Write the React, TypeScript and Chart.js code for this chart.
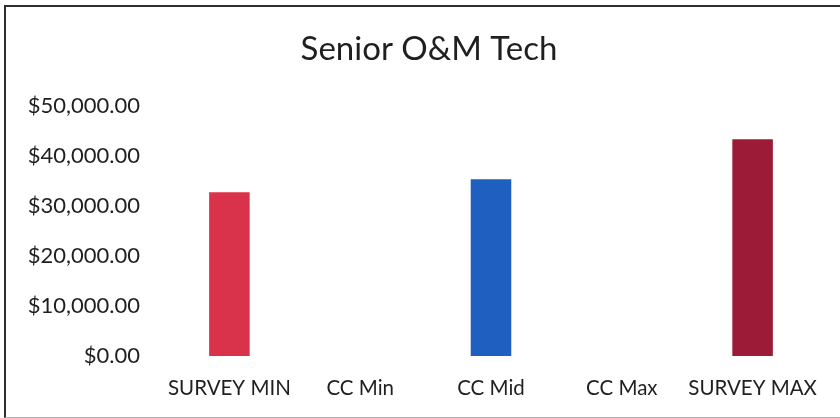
import React, { useEffect, useRef } from "react";
import { Chart, registerables } from "chart.js";

Chart.register(...registerables);

const TITLE = "Senior O&M Tech";
const categories = ["SURVEY MIN", "CC Min", "CC Mid", "CC Max", "SURVEY MAX"];
const values: (number | null)[] = [32700, null, 35300, null, 43300];
const barColors = ["#D8334A", "#D8334A", "#1F5FC0", "#1F5FC0", "#9C1C38"];
const yMin = 0;
const yMax = 50000;
const yStep = 10000;

const FONT = "Lato, 'Open Sans', sans-serif";

const titleShift = {
  id: "titleShift",
  afterLayout(chart: any) {
    const t = chart.titleBlock;
    if (t) t.left = 40;
  },
};

export default function App() {
  const ref = useRef<HTMLCanvasElement | null>(null);

  useEffect(() => {
    if (!ref.current) return;
    const chart = new Chart(ref.current, {
      type: "bar",
      data: {
        labels: categories,
        datasets: [
          {
            data: values,
            backgroundColor: barColors,
            borderWidth: 0,
            barPercentage: 0.62,
            categoryPercentage: 0.5,
          },
        ],
      },
      plugins: [titleShift],
      options: {
        animation: false,
        responsive: false,
        maintainAspectRatio: false,
        layout: { padding: { top: 0, right: 22, bottom: 18, left: 4 } },
        plugins: {
          legend: { display: false },
          tooltip: { enabled: false },
          title: {
            display: true,
            text: TITLE,
            color: "#1f1f1f",
            font: { family: FONT, size: 33, weight: "normal" },
            padding: { top: 30, bottom: 36 },
          },
        },
        scales: {
          x: {
            grid: { display: false, drawTicks: false },
            border: { display: false },
            ticks: {
              color: "#1f1f1f",
              font: { family: FONT, size: 20.5 },
              padding: 20,
              maxRotation: 0,
              autoSkip: false,
            },
            afterFit: (s: any) => {
              s.height = 44;
            },
          },
          y: {
            min: yMin,
            max: yMax,
            grid: { display: false, drawTicks: false },
            border: { display: false },
            ticks: {
              stepSize: yStep,
              color: "#1f1f1f",
              font: { family: FONT, size: 22 },
              padding: 24,
              callback: (v: any) =>
                "$" +
                Number(v).toLocaleString("en-US", {
                  minimumFractionDigits: 2,
                  maximumFractionDigits: 2,
                }),
            },
            afterFit: (s: any) => {
              s.width = 160;
            },
          },
        },
      },
    });
    return () => chart.destroy();
  }, []);

  return (
    <div
      style={{
        position: "fixed",
        left: 0,
        top: 0,
        width: 840,
        height: 418,
        background: "#ffffff",
        overflow: "hidden",
      }}
    >
      <div
        style={{
          position: "absolute",
          left: 4,
          top: 5,
          width: 860,
          height: 410,
          borderLeft: "2px solid #2e2e2e",
          borderTop: "2px solid #2e2e2e",
          borderBottom: "1px solid #b0b0b0",
        }}
      />
      <canvas
        ref={ref}
        width={840}
        height={418}
        style={{ position: "absolute", left: 0, top: 0, width: 840, height: 418 }}
      />
    </div>
  );
}
